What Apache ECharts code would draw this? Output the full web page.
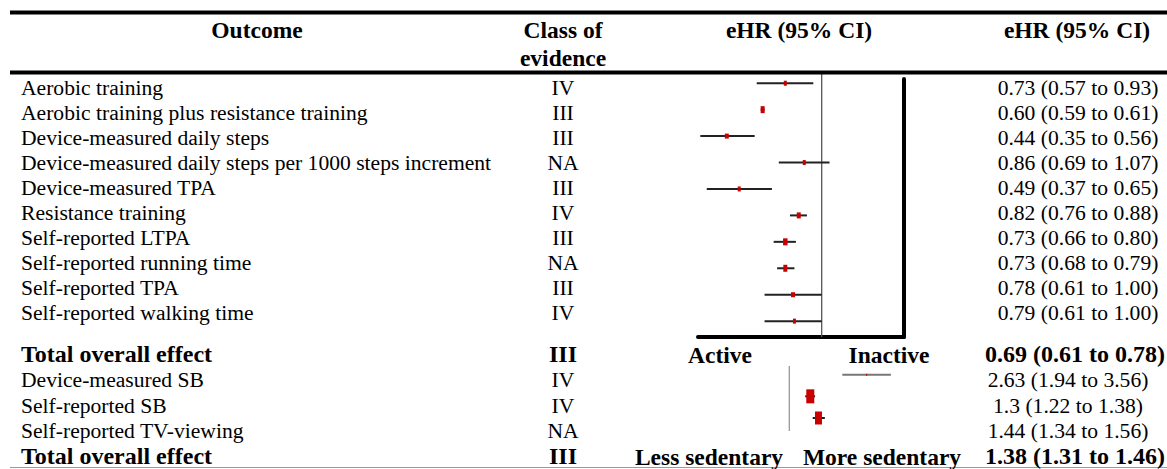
<!DOCTYPE html>
<html>
<head>
<meta charset="utf-8">
<script src="https://cdn.jsdelivr.net/npm/echarts@6/dist/echarts.min.js"></script>
<style>html,body{margin:0;padding:0;background:#fff}#c{width:1167px;height:469px}</style>
</head>
<body>
<div id="c"></div>
<script>
// ---- data ----
const headers = ['Outcome', 'Class of\nevidence', 'eHR (95% CI)', 'eHR (95% CI)'];
const outcomes = ['Aerobic training', 'Aerobic training plus resistance training', 'Device-measured daily steps',
  'Device-measured daily steps per 1000 steps increment', 'Device-measured TPA', 'Resistance training',
  'Self-reported LTPA', 'Self-reported running time', 'Self-reported TPA', 'Self-reported walking time'];
const classes = ['IV', 'III', 'III', 'NA', 'III', 'IV', 'III', 'NA', 'III', 'IV'];
const hrText = ['0.73 (0.57 to 0.93)', '0.60 (0.59 to 0.61)', '0.44 (0.35 to 0.56)', '0.86 (0.69 to 1.07)',
  '0.49 (0.37 to 0.65)', '0.82 (0.76 to 0.88)', '0.73 (0.66 to 0.80)', '0.73 (0.68 to 0.79)',
  '0.78 (0.61 to 1.00)', '0.79 (0.61 to 1.00)'];
const hr = [0.73, 0.60, 0.44, 0.86, 0.49, 0.82, 0.73, 0.73, 0.78, 0.79];
const lo = [0.57, 0.59, 0.35, 0.69, 0.37, 0.76, 0.66, 0.68, 0.61, 0.61];
const hi = [0.93, 0.61, 0.56, 1.07, 0.65, 0.88, 0.80, 0.79, 1.00, 1.00];

const sedOutcomes = ['Device-measured SB', 'Self-reported SB', 'Self-reported TV-viewing'];
const sedClasses = ['IV', 'IV', 'NA'];
const sedText = ['2.63 (1.94 to 3.56)', '1.3 (1.22 to 1.38)', '1.44 (1.34 to 1.56)'];
const sedHr = [2.63, 1.3, 1.44];
const sedLo = [1.94, 1.22, 1.34];
const sedHi = [3.56, 1.38, 1.56];

const totalLabel = 'Total overall effect';
const paTotal = ['III', '0.69 (0.61 to 0.78)'];
const sbTotal = ['III', '1.38 (1.31 to 1.46)'];
const paDirections = ['Active', 'Inactive'];
const sbDirections = ['Less sedentary', 'More sedentary'];

// ---- styles (marker box sizes, px: [w, h]) ----
const paBox = [[3,5],[4,7],[4,5],[3,5],[3,5],[4,6],[4.5,7],[4,7],[4,5],[3,5]];
const sbBox = [[1.2,2],[8,14],[7,13]];

const FONT = "'Liberation Serif', 'Times New Roman', serif";
const RED = '#c80000';
const REG = 21.6, BOLD = 24, HEAD = 23.5;

const chart = echarts.init(document.getElementById('c'), null, {renderer: 'svg', width: 1167, height: 469});

function txt(text, x, y, opts) {
  opts = opts || {};
  return {
    type: 'text', x: x, y: y, z: 10,
    style: {
      text: text, fill: '#000', font: (opts.bold ? 'bold ' : '') + (opts.size || REG) + 'px ' + FONT,
      align: opts.align || 'left', verticalAlign: 'middle', lineHeight: opts.lh || 28
    }
  };
}
function hline(x1, x2, y, w, color) {
  return {type: 'line', z: 5, shape: {x1: x1, y1: y, x2: x2, y2: y}, style: {stroke: color, lineWidth: w}};
}

const graphics = [];
graphics.push(hline(10, 1167, 12.5, 4, '#000'));
graphics.push(hline(10, 1167, 72.5, 4, '#000'));
graphics.push(hline(10, 1167, 467.5, 1, '#999'));
graphics.push(txt(headers[0], 257, 30, {bold: true, size: HEAD, align: 'center'}));
graphics.push(txt(headers[1], 563, 44, {bold: true, size: HEAD, align: 'center', lh: 28}));
graphics.push(txt(headers[2], 799, 30, {bold: true, size: HEAD, align: 'center'}));
graphics.push(txt(headers[3], 1077, 30, {bold: true, size: HEAD, align: 'center'}));

outcomes.forEach(function (o, i) {
  const y = 88.4 + 25 * i;
  graphics.push(txt(o, 21, y));
  graphics.push(txt(classes[i], 563, y, {align: 'center'}));
  graphics.push(txt(hrText[i], 1078, y, {align: 'center'}));
});
graphics.push(txt(totalLabel, 21, 353.5, {bold: true, size: BOLD}));
graphics.push(txt(paTotal[0], 563, 353.5, {bold: true, size: BOLD, align: 'center'}));
graphics.push(txt(paTotal[1], 1075, 353.5, {bold: true, size: BOLD, align: 'center'}));
graphics.push(txt(paDirections[0], 720, 354.5, {bold: true, size: HEAD, align: 'center'}));
graphics.push(txt(paDirections[1], 889, 354.5, {bold: true, size: HEAD, align: 'center'}));
const sedY = [380.2, 405.8, 430.8];
sedOutcomes.forEach(function (o, i) {
  graphics.push(txt(o, 21, sedY[i]));
  graphics.push(txt(sedClasses[i], 563, sedY[i], {align: 'center'}));
  graphics.push(txt(sedText[i], 1068, sedY[i], {align: 'center'}));
});
graphics.push(txt(totalLabel, 21, 456.2, {bold: true, size: BOLD}));
graphics.push(txt(sbTotal[0], 563, 456.2, {bold: true, size: BOLD, align: 'center'}));
graphics.push(txt(sbTotal[1], 1075, 456.2, {bold: true, size: BOLD, align: 'center'}));
graphics.push(txt(sbDirections[0], 709, 457, {bold: true, size: HEAD, align: 'center'}));
graphics.push(txt(sbDirections[1], 882, 457, {bold: true, size: HEAD, align: 'center'}));

function forestItem(boxes, lineColorFn) {
  return function (params, api) {
    const yv = api.value(0);
    const pt = api.coord([api.value(1), yv]);
    const l = api.coord([api.value(2), yv]);
    const h = api.coord([api.value(3), yv]);
    const b = boxes[params.dataIndex];
    return {
      type: 'group',
      children: [
        {type: 'line', shape: {x1: l[0], y1: l[1], x2: h[0], y2: h[1]},
          style: {stroke: lineColorFn(params.dataIndex), lineWidth: 2}},
        {type: 'rect', shape: {x: pt[0] - b[0] / 2, y: pt[1] - b[1] / 2, width: b[0], height: b[1]},
          style: {fill: RED}}
      ]
    };
  };
}

const paData = hr.map(function (v, i) { return [i, v, lo[i], hi[i]]; });
const sbData = sedHr.map(function (v, i) { return [i, v, sedLo[i], sedHi[i]]; });

const hidden = {show: false};
chart.setOption({
  animation: false,
  backgroundColor: '#fff',
  graphic: graphics,
  grid: [
    {left: 698, top: 79, width: 206, height: 258},
    {left: 709.3, top: 366, width: 240, height: 65}
  ],
  xAxis: [
    {type: 'log', gridIndex: 0, min: 0.343, max: 2.038, axisLine: {show: true, onZero: false, lineStyle: {color: '#000', width: 4}},
      axisTick: hidden, axisLabel: hidden, splitLine: hidden},
    {type: 'log', gridIndex: 1, min: 0.3679, max: 7.389, axisLine: hidden, axisTick: hidden, axisLabel: hidden, splitLine: hidden}
  ],
  yAxis: [
    {type: 'value', gridIndex: 0, inverse: true, min: -0.16, max: 9.6, position: 'right',
      axisLine: {show: true, onZero: false, lineStyle: {color: '#000', width: 4}},
      axisTick: hidden, axisLabel: hidden, splitLine: hidden},
    {type: 'value', gridIndex: 1, inverse: true, min: -0.4, max: 2.6, axisLine: hidden, axisTick: hidden, axisLabel: hidden, splitLine: hidden}
  ],
  series: [
    {type: 'line', xAxisIndex: 0, yAxisIndex: 0, data: [[1, -0.35], [1, 9.6]], clip: false, symbol: 'none',
      lineStyle: {color: '#555', width: 1.3}, z: 1, silent: true},
    {type: 'custom', xAxisIndex: 0, yAxisIndex: 0, data: paData, encode: {x: [1, 2, 3], y: 0}, z: 3,
      renderItem: forestItem(paBox, function () { return '#222'; })},
    {type: 'line', xAxisIndex: 1, yAxisIndex: 1, data: [[1, -0.4], [1, 2.6]], clip: false, symbol: 'none',
      lineStyle: {color: '#999', width: 1.3}, z: 1, silent: true},
    {type: 'custom', xAxisIndex: 1, yAxisIndex: 1, data: sbData, encode: {x: [1, 2, 3], y: 0}, z: 3,
      renderItem: forestItem(sbBox, function (i) { return i === 0 ? '#777' : '#222'; })}
  ]
});
</script>
</body>
</html>
